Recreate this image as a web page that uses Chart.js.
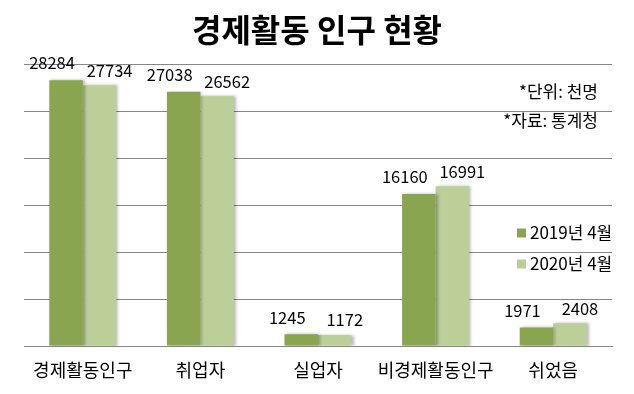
<!DOCTYPE html>
<html>
<head>
<meta charset="utf-8">
<script src="https://cdn.jsdelivr.net/npm/chart.js@4/dist/chart.umd.min.js"></script>
<style>
  html, body { margin: 0; padding: 0; background: #ffffff; }
  #wrap { width: 634px; height: 394px; position: relative; }
</style>
</head>
<body>
<div id="wrap"><canvas id="c" width="634" height="394"></canvas></div>
<script>
const categories = ['경제활동인구', '취업자', '실업자', '비경제활동인구', '쉬었음'];
const seriesNames = ['2019년 4월', '2020년 4월'];
const values2019 = [28284, 27038, 1245, 16160, 1971];
const values2020 = [27734, 26562, 1172, 16991, 2408];
const yTicks = [0, 5000, 10000, 15000, 20000, 25000, 30000];
const titleText = '경제활동 인구 현황';
const notes = ['*단위: 천명', '*자료: 통계청'];

const FONT = "'Noto Sans CJK KR', 'Noto Sans', sans-serif";
const DARK = '#8AA54F';
const LIGHT = '#BCCF99';

const decorPlugin = {
  id: 'decor',
  beforeDatasetsDraw(chart) {
    const ctx = chart.ctx;
    ctx.save();
    ctx.shadowColor = 'rgba(0,0,0,0.28)';
    ctx.shadowBlur = 3;
    ctx.shadowOffsetX = 2;
    ctx.shadowOffsetY = 0;
  },
  afterDatasetsDraw(chart) {
    const ctx = chart.ctx;
    ctx.restore();
    // value labels
    const offsets = [{dx: -14, dy: -17}, {dx: 10, dy: -15}];
    ctx.save();
    ctx.font = '16.5px ' + FONT;
    ctx.fillStyle = '#000000';
    ctx.textAlign = 'center';
    ctx.textBaseline = 'middle';
    chart.data.datasets.forEach((ds, di) => {
      const meta = chart.getDatasetMeta(di);
      meta.data.forEach((bar, i) => {
        ctx.fillText(String(ds.data[i]), bar.x + offsets[di].dx, bar.y + offsets[di].dy);
      });
    });
    ctx.restore();
  },
  afterDraw(chart) {
    const ctx = chart.ctx;
    const area = chart.chartArea;
    ctx.save();
    // title
    ctx.fillStyle = '#000000';
    ctx.font = 'bold 32px ' + FONT;
    ctx.textAlign = 'center';
    ctx.textBaseline = 'middle';
    ctx.fillText(titleText, 317, 30);
    // notes
    ctx.font = '17px ' + FONT;
    ctx.textAlign = 'right';
    ctx.fillText(notes[0], area.right - 14, 92);
    ctx.fillText(notes[1], area.right - 14, 121);
    // legend
    ctx.font = '17px ' + FONT;
    ctx.textAlign = 'left';
    chart.data.datasets.forEach((ds, di) => {
      const y = 233 + di * 31;
      ctx.fillStyle = ds.backgroundColor;
      ctx.fillRect(517, y - 4.5, 9, 9);
      ctx.fillStyle = '#000000';
      ctx.fillText(ds.label, 530, y);
    });
    ctx.restore();
  }
};

new Chart(document.getElementById('c'), {
  type: 'bar',
  data: {
    labels: categories,
    datasets: [
      { label: seriesNames[0], data: values2019, backgroundColor: DARK, borderWidth: 0 },
      { label: seriesNames[1], data: values2020, backgroundColor: LIGHT, borderWidth: 0 }
    ]
  },
  options: {
    responsive: false,
    animation: false,
    devicePixelRatio: 1,
    layout: { padding: { left: 24, right: 22, top: 64, bottom: 0 } },
    datasets: { bar: { barPercentage: 1.0, categoryPercentage: 0.57 } },
    plugins: {
      legend: { display: false },
      title: { display: false },
      tooltip: { enabled: false }
    },
    scales: {
      x: {
        grid: { display: false },
        border: { display: true, color: '#868686', width: 1 },
        ticks: { color: '#000000', font: { family: FONT, size: 18 }, padding: 5, maxRotation: 0, autoSkip: false },
        afterFit(s) { s.height = 48; }
      },
      y: {
        min: yTicks[0],
        max: yTicks[yTicks.length - 1],
        afterBuildTicks(s) { s.ticks = yTicks.map(v => ({ value: v })); },
        ticks: { display: false },
        grid: { color: '#868686', lineWidth: 1, drawTicks: false },
        border: { display: false },
        afterFit(s) { s.width = 0; }
      }
    }
  },
  plugins: [decorPlugin]
});
</script>
</body>
</html>
